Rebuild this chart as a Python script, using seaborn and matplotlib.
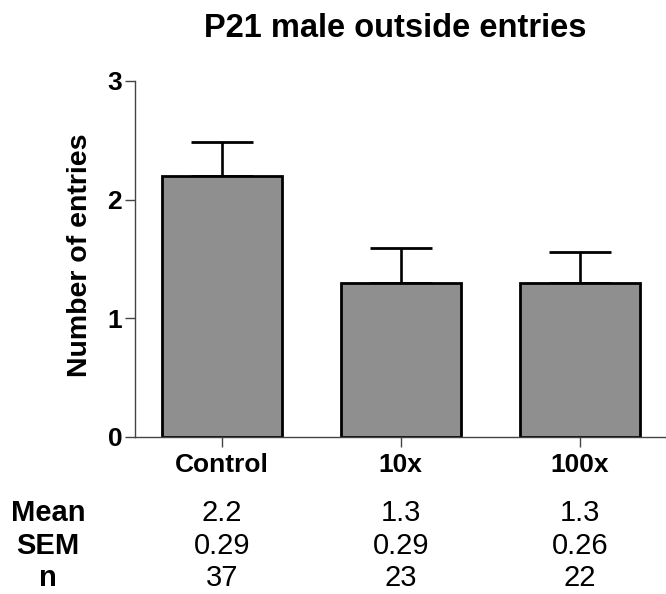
import matplotlib
matplotlib.use("Agg")
import matplotlib.pyplot as plt
import seaborn as sns
import pandas as pd

# Data
groups = ["Control", "10x", "100x"]
means = [2.2, 1.3, 1.3]
sems = [0.29, 0.29, 0.26]
ns = [37, 23, 22]
yticks = [0, 1, 2, 3]
row_labels = ["Mean", "SEM", "n"]

sns.set_theme(style="ticks")
plt.rcParams["font.family"] = ["Liberation Sans", "DejaVu Sans"]
plt.rcParams["text.color"] = "black"
plt.rcParams["axes.labelcolor"] = "black"
plt.rcParams["xtick.labelcolor"] = "black"
plt.rcParams["ytick.labelcolor"] = "black"

W, H = 666, 594
fig = plt.figure(figsize=(W / 100, H / 100), dpi=100)
ax = fig.add_axes([135 / W, 1 - 437 / H, 1 - 135 / W, (437 - 81) / H])

df = pd.DataFrame({"group": groups, "mean": means})
sns.barplot(data=df, x="group", y="mean", order=groups, color="#8f8f8f",
            saturation=1, width=0.67, edgecolor="black", linewidth=2.0,
            errorbar=None, ax=ax, zorder=2)

# upward-only SEM error bars
ax.errorbar(range(len(groups)), means, yerr=[[0] * len(sems), sems],
            fmt="none", ecolor="black", elinewidth=1.9, capsize=22,
            capthick=2.0, zorder=1)

ax.set_xlim(-0.486, 2.483)
ax.set_ylim(0, 3)
ax.set_yticks(yticks)
ax.set_yticklabels([str(t) for t in yticks])
ax.set_xlabel("")
ax.set_ylabel("")

for side in ["top", "right"]:
    ax.spines[side].set_visible(False)
for side in ["left", "bottom"]:
    ax.spines[side].set_color("#444444")
    ax.spines[side].set_linewidth(1.0)

ax.tick_params(axis="y", length=7.2, width=1.0, color="#444444", pad=2,
               labelsize=19, labelcolor="black")
ax.tick_params(axis="x", length=7.2, width=1.0, color="#444444", pad=4,
               labelsize=19, labelcolor="black")
for lab in ax.get_xticklabels() + ax.get_yticklabels():
    lab.set_fontweight("bold")

# Title and y label
fig.text(395 / W, 1 - 37 / H, "P21 male outside entries", ha="center",
         va="baseline", fontsize=23.5, fontweight="bold", color="black")
fig.text(80 / W, 1 - 255 / H, "Number of entries", rotation=90,
         ha="center", va="center", fontsize=20.5, fontweight="bold",
         color="black")

# Summary table under the axis
centers_px = [222, 401, 580]
baselines = [521, 554, 586]
rows = [[f"{m:.1f}" for m in means], [f"{s:.2f}" for s in sems],
        [str(n) for n in ns]]
for lab, base, vals in zip(row_labels, baselines, rows):
    fig.text(48 / W, 1 - base / H, lab, ha="center", va="baseline",
             fontsize=21, fontweight="bold", color="black")
    for cx, v in zip(centers_px, vals):
        fig.text(cx / W, 1 - base / H, v, ha="center", va="baseline",
                 fontsize=21, color="black")

fig.savefig("out.png", dpi=100)
